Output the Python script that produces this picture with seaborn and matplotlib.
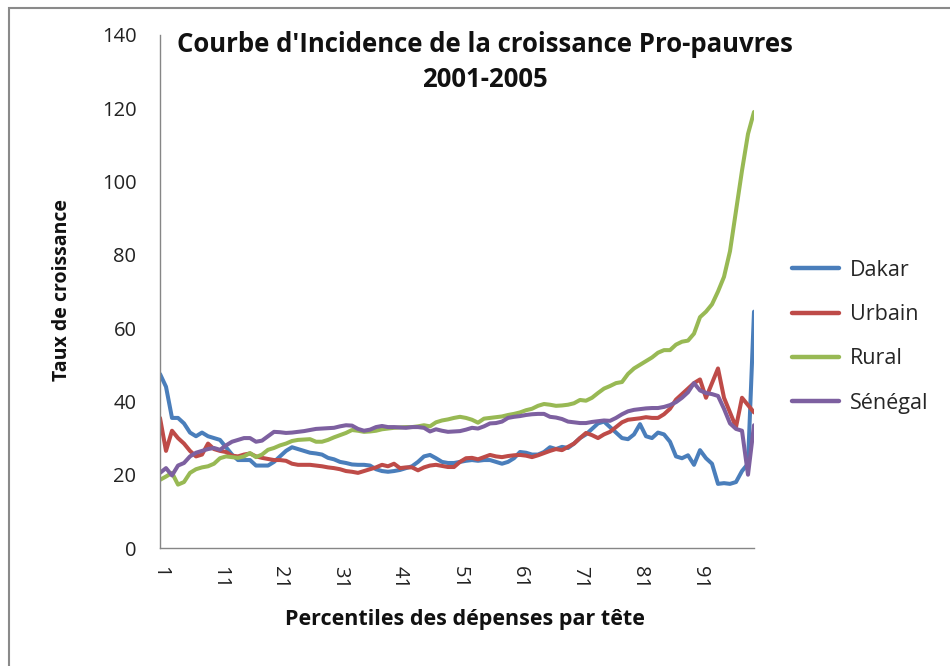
import matplotlib
matplotlib.use("Agg")
import matplotlib.pyplot as plt
import seaborn as sns
import pandas as pd
from matplotlib.patches import Rectangle

percentiles = list(range(1, 101))

dakar = [47.5, 44, 35.5, 35.5, 34, 31.5, 30.5, 31.5, 30.5, 30,
         29.5, 27.5, 25.5, 24, 24, 24, 22.5, 22.5, 22.5, 23.5,
         25, 26.5, 27.5, 27, 26.5, 26, 25.8, 25.5, 24.6, 24.2,
         23.5, 23.2, 22.8, 22.7, 22.7, 22.5, 21.5, 21, 20.8, 21,
         21.3, 21.8, 22.3, 23.5, 25, 25.4, 24.5, 23.5, 23.2, 23.2,
         23.5, 23.8, 24, 23.8, 24, 24, 23.5, 23, 23.5, 24.5,
         26.2, 26, 25.5, 25.5, 26.2, 27.5, 27, 27.6, 27.3, 28.5,
         30, 31, 32.5, 34, 34.5, 33, 31.5, 30, 29.7, 31,
         33.8, 30.5, 30, 31.5, 31, 29, 25, 24.5, 25.3, 22.7,
         26.7, 24.5, 23, 17.5, 17.7, 17.5, 18, 21, 23, 64.5]

urbain = [35.5, 26.5, 32, 30, 28.5, 26.5, 25, 25.5, 28.5, 27,
          26.5, 26.2, 25.2, 25, 25.5, 25.8, 25, 24.6, 24.3, 24,
          24, 23.8, 23, 22.7, 22.7, 22.7, 22.5, 22.3, 22, 21.8,
          21.5, 21, 20.8, 20.5, 21, 21.5, 22, 22.7, 22.3, 23,
          21.8, 22, 22, 21.2, 22, 22.5, 22.7, 22.4, 22.1, 22.1,
          23.5, 24.5, 24.6, 24.2, 24.8, 25.4, 25, 24.8, 25.1, 25.3,
          25.4, 25.2, 24.8, 25.3, 25.9, 26.5, 27, 26.7, 27.6, 28.5,
          30, 31.4, 30.8, 30, 31, 31.7, 33, 34.3, 35, 35.2,
          35.4, 35.7, 35.5, 35.5, 36.5, 38, 40.5, 42, 43.5, 45,
          46, 41, 45, 49, 41, 37, 33, 41, 39, 37]

rural = [18.6, 19.5, 20.5, 17.3, 18, 20.5, 21.5, 22, 22.3, 23,
         24.5, 25, 24.8, 24.6, 25, 25.9, 24.8, 25.5, 26.8, 27.3,
         28, 28.5, 29.2, 29.5, 29.6, 29.7, 29, 29, 29.5, 30.2,
         30.8, 31.4, 32.2, 32, 31.7, 31.8, 32, 32.4, 32.6, 32.8,
         32.9, 33, 33, 33.2, 33.5, 33.2, 34.3, 34.8, 35.1, 35.5,
         35.8, 35.5, 35, 34.2, 35.3, 35.5, 35.7, 35.9, 36.3, 36.6,
         37, 37.6, 38, 38.8, 39.3, 39.1, 38.8, 38.9, 39.1, 39.5,
         40.4, 40.2, 41, 42.3, 43.5, 44.2, 45, 45.3, 47.5, 49,
         50, 51, 52, 53.3, 54, 54, 55.5, 56.3, 56.6, 58.5,
         63, 64.5, 66.5, 70, 74, 81, 92, 103, 113, 119]

senegal = [20.5, 21.8, 19.8, 22.5, 23.2, 25, 26, 26.5, 27, 27.3,
           26.8, 28, 29, 29.5, 30, 30, 29, 29.3, 30.5, 31.7,
           31.6, 31.4, 31.5, 31.7, 31.9, 32.2, 32.5, 32.6, 32.7, 32.8,
           33.2, 33.5, 33.4, 32.5, 32, 32.3, 33, 33.3, 33, 33,
           32.9, 32.8, 33, 33, 32.8, 31.8, 32.4, 32, 31.7, 31.8,
           31.9, 32.3, 32.8, 32.6, 33.2, 34, 34.1, 34.5, 35.5, 35.8,
           36, 36.3, 36.5, 36.6, 36.6, 35.8, 35.6, 35.2, 34.5, 34.3,
           34.1, 34.1, 34.4, 34.6, 34.8, 34.7, 35.5, 36.5, 37.3, 37.7,
           37.9, 38.1, 38.2, 38.2, 38.5, 39, 39.8, 41, 42.5, 45,
           43, 42.3, 42, 41.5, 38, 34, 32.5, 32, 20, 33.5]

series_names = ["Dakar", "Urbain", "Rural", "Sénégal"]
colors = ["#4A7EBB", "#BE4B48", "#98B954", "#7D60A0"]
x_ticks = [1, 11, 21, 31, 41, 51, 61, 71, 81, 91]
y_ticks = [0, 20, 40, 60, 80, 100, 120, 140]

title = "Courbe d'Incidence de la croissance Pro-pauvres\n2001-2005"
xlabel = "Percentiles des dépenses par tête"
ylabel = "Taux de croissance"

df = pd.DataFrame({
    "p": percentiles * 4,
    "val": dakar + urbain + rural + senegal,
    "serie": sum([[n] * 100 for n in series_names], []),
})

sns.set_style("white")
plt.rcParams["font.family"] = ["Open Sans", "DejaVu Sans"]

fig = plt.figure(figsize=(9.5, 6.66), dpi=100)
ax = fig.add_axes([160 / 950, 1 - 548 / 666, (754 - 160) / 950, (548 - 35) / 666])

sns.lineplot(data=df, x="p", y="val", hue="serie", hue_order=series_names,
             palette=colors, linewidth=2.9, ax=ax, estimator=None,
             solid_capstyle="round", solid_joinstyle="round")

ax.set_xlim(1, 100)
ax.set_ylim(0, 140)
ax.set_xticks(x_ticks)
ax.set_xticklabels([str(t) for t in x_ticks], rotation=-90, fontsize=14.5, color="#222222")
ax.set_yticks(y_ticks)
ax.set_yticklabels([str(t) for t in y_ticks], fontsize=14.5, color="#222222")
ax.tick_params(axis="y", direction="out", length=5, width=1, color="#868686", pad=12)
ax.tick_params(axis="x", direction="out", length=5, width=1, color="#868686", pad=8)
for s in ["top", "right"]:
    ax.spines[s].set_visible(False)
for s in ["left", "bottom"]:
    ax.spines[s].set_color("#868686")
    ax.spines[s].set_linewidth(1)
ax.set_xlabel("")
ax.set_ylabel("")

fig.text(465 / 950, 1 - 620 / 666, xlabel, ha="center", va="center",
         fontsize=15.5, fontweight="bold", color="#111111")
fig.text(62 / 950, 1 - 290 / 666, ylabel, ha="center", va="center",
         rotation=90, fontsize=14, fontweight="bold", color="#111111")
fig.text(485 / 950, 1 - 62 / 666, title, ha="center", va="center",
         fontsize=18.5, fontweight="bold", color="#111111", linespacing=1.35)

handles, labels = ax.get_legend_handles_labels()
leg = ax.legend(handles, labels, loc="upper left",
                bbox_to_anchor=(792 / 950, 1 - 260 / 666), bbox_transform=fig.transFigure,
                frameon=False, fontsize=15.5, handlelength=2.2, labelspacing=1.08,
                handletextpad=0.5, borderaxespad=0, borderpad=0)
for line in leg.get_lines():
    line.set_linewidth(3.2)

fig.add_artist(Rectangle((9 / 950, -0.5), 2.0, 1.5 - 8 / 666,
                         transform=fig.transFigure, fill=False,
                         edgecolor="#8a8a8a", linewidth=1.5))

fig.savefig("out.png", dpi=100)
